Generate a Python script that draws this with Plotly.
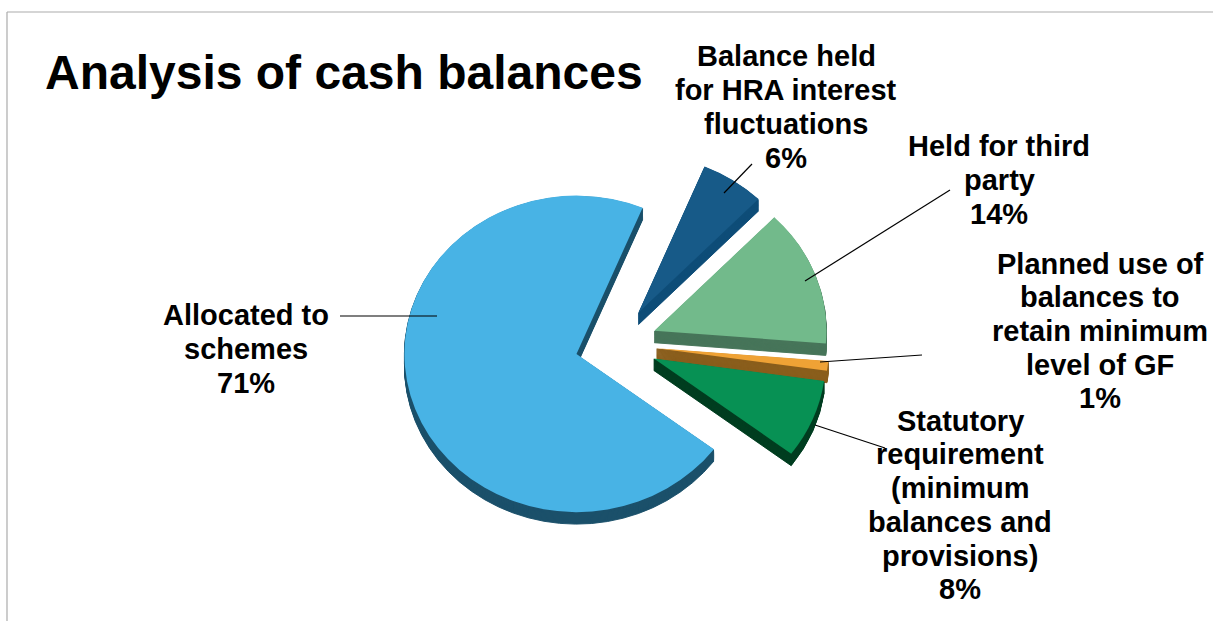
import plotly.graph_objects as go

W, H = 1213, 621

# Slices, clockwise from the lower right of the large segment
categories = [
    "Allocated to<br>schemes",
    "Balance held<br>for HRA interest<br>fluctuations",
    "Held for third<br>party",
    "Planned use of<br>balances to<br>retain minimum<br>level of GF",
    "Statutory<br>requirement<br>(minimum<br>balances and<br>provisions)",
]
shares = [71, 6, 14, 1, 8]
top_colors = ["#48B3E5", "#175A88", "#72BA8B", "#EFA235", "#079154"]
side_colors = ["#1B506B", "#0F4D78", "#47755A", "#8A5E1C", "#013E20"]

CENTER_X, CENTER_Y = 616, 344
HALF = 213
PULL = 0.238
DEPTH = 13
START_ANGLE = 127
TILT = 0.92


def pie_domain(dy):
    return dict(
        x=[(CENTER_X - HALF) / W, (CENTER_X + HALF) / W],
        y=[1 - (CENTER_Y + dy + HALF) / H, 1 - (CENTER_Y + dy - HALF) / H],
    )


def pie(colors, dy, edge):
    return go.Pie(
        labels=categories,
        values=shares,
        marker=dict(colors=colors, line=dict(width=edge, color=colors)),
        sort=False,
        direction="clockwise",
        rotation=START_ANGLE,
        pull=PULL,
        textinfo="none",
        hoverinfo="label+percent",
        showlegend=False,
        domain=pie_domain(dy),
    )


fig = go.Figure()

# Stacked darker copies build the thickness of the disc
for dy in range(DEPTH, 0, -1):
    fig.add_trace(pie(side_colors, dy, 1))
fig.add_trace(pie(top_colors, 0, 0))


def px(x):
    return x / W


def py(y):
    return 1 - y / H


# Data labels, one annotation per line to hold the tight leading
LEADING = 33.7
label_positions = [(246, 349), (786, 107), (999, 180), (1100, 331), (960, 505)]
for name, share, (lx, ly) in zip(categories, shares, label_positions):
    lines = name.split("<br>") + [f"{share}%"]
    first = ly - LEADING * (len(lines) - 1) / 2
    for i, line in enumerate(lines):
        fig.add_annotation(
            x=px(lx), y=py(first + i * LEADING), xref="paper", yref="paper",
            text=f"<b>{line}</b>", showarrow=False,
            xanchor="center", yanchor="middle", align="center",
            font=dict(family="Liberation Sans", size=29, color="#000000"),
        )

fig.add_annotation(
    x=px(43), y=py(73), xref="paper", yref="paper",
    text="<b>Analysis of cash balances</b>", showarrow=False,
    xanchor="left", yanchor="middle",
    font=dict(family="Liberation Sans", size=48, color="#000000"),
)

# Leader lines from the labels to their slices
leaders = [
    ((340, 316), (437, 316)),
    ((752, 164), (724, 193)),
    ((950, 190), (805, 281)),
    ((922, 355), (820, 362)),
    ((885, 448), (815, 425)),
]
shapes = [
    dict(type="line", xref="paper", yref="paper",
         x0=px(a[0]), y0=py(a[1]), x1=px(b[0]), y1=py(b[1]),
         line=dict(color="#000000", width=1.2))
    for a, b in leaders
]

# Thin grey frame along the top and left edges
shapes.append(dict(type="line", xref="paper", yref="paper",
                   x0=px(7), y0=py(12), x1=1, y1=py(12),
                   line=dict(color="#ABABAB", width=1.2)))
shapes.append(dict(type="line", xref="paper", yref="paper",
                   x0=px(7), y0=py(12), x1=px(7), y1=0,
                   line=dict(color="#ABABAB", width=1.2)))

fig.update_layout(
    width=W, height=H,
    margin=dict(l=0, r=0, t=0, b=0),
    paper_bgcolor="#FFFFFF",
    shapes=shapes,
)

# Flatten the pie layer vertically so the disc reads as tilted
tilt_script = (
    "var layer = document.querySelector('.pielayer');"
    f"layer.setAttribute('transform', 'translate(0,{CENTER_Y}) scale(1,{TILT}) translate(0,{-CENTER_Y})');"
)

fig.write_html("out.html", post_script=tilt_script)
